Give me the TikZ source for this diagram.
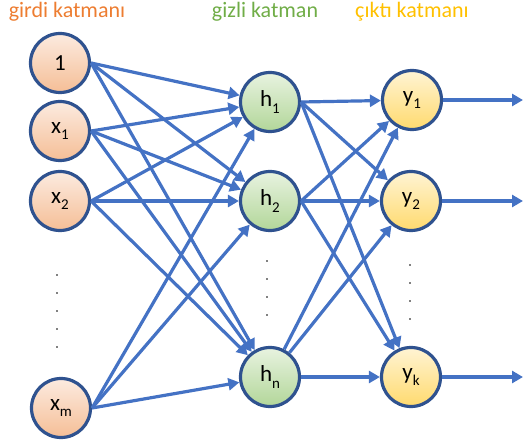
\documentclass[tikz,border=0pt]{standalone}
\usepackage{fontspec}
\setmainfont{Carlito}
\usepackage{tikz}
\usetikzlibrary{arrows.meta, positioning}

\definecolor{edgeblue}{HTML}{4472C4}
\definecolor{rimblue}{HTML}{2F528F}
\definecolor{inlo}{HTML}{FCEBE0}
\definecolor{inhi}{HTML}{F5BE96}
\definecolor{hidlo}{HTML}{E8F3E0}
\definecolor{hidhi}{HTML}{B2D699}
\definecolor{outlo}{HTML}{FFF4D4}
\definecolor{outhi}{HTML}{FFDA6E}
\definecolor{inlbl}{HTML}{ED7D31}
\definecolor{hidlbl}{HTML}{70AD47}
\definecolor{outlbl}{HTML}{FFC000}

\newcommand{\unit}[2]{#1\raisebox{-0.28em}{\fontsize{15}{15}\selectfont #2}}

\begin{document}
\begin{tikzpicture}[
  x=1pt, y=-1pt,
  unitnode/.style={circle, draw=rimblue, line width=3.2pt, minimum size=59pt, inner sep=0pt, font=\fontsize{23}{23}\selectfont},
  inunit/.style={unitnode, top color=inlo, bottom color=inhi},
  hidunit/.style={unitnode, top color=hidlo, bottom color=hidhi},
  outunit/.style={unitnode, top color=outlo, bottom color=outhi},
  layerlbl/.style={anchor=base, font=\fontsize{22}{22}\selectfont},
  conn/.style={-{Triangle[length=11pt, width=12pt]}, line width=3.2pt, edgeblue}
]
\useasboundingbox (0,0) rectangle (525,446);

%  : -- layer titles  : --
\node[layerlbl, inlbl] (tin) at (67, 18) {girdi katmanı};
\node[layerlbl, hidlbl] (thid) at (265, 18) {gizli katman};
\node[layerlbl, outlbl] (tout) at (412, 18) {çıktı katmanı};

%  : -- input layer  : --
\node[inunit] (in0) at (60, 63) {1};
\node[inunit] (in1) at (60, 131) {\unit{x}{1}};
\node[inunit] (in2) at (60, 201) {\unit{x}{2}};
\node[inunit] (inm) at (61, 408) {\unit{x}{m}};
\foreach \k in {0,...,4} {
  \fill (57, {275 + 18*\k}) circle (0.9pt);
}

%  : -- hidden layer  : --
\node[hidunit] (h1) at (270, 102) {\unit{h}{1}};
\node[hidunit] (h2) at (270, 201) {\unit{h}{2}};
\node[hidunit] (hn) at (270, 377) {\unit{h}{n}};
\foreach \k in {0,...,3} {
  \fill (267, {261 + 18*\k}) circle (0.9pt);
}

%  : -- output layer  : --
\node[outunit] (y1) at (412, 100) {\unit{y}{1}};
\node[outunit] (y2) at (411, 201) {\unit{y}{2}};
\node[outunit] (yk) at (411, 377) {\unit{y}{k}};
\foreach \k in {0,...,3} {
  \fill (410, {265 + 18*\k}) circle (0.9pt);
}

%  : -- input -> hidden  : --
\foreach \s in {in0, in1, in2, inm} {
  \foreach \t in {h1, h2, hn} {
    \draw[conn] (\s.east) -- (\t);
  }
}

%  : -- hidden -> output  : --
\foreach \s in {h1, h2} {
  \foreach \t in {y1, y2, yk} {
    \draw[conn] (\s.east) -- (\t);
  }
}
\foreach \t in {y1, y2, yk} {
  \draw[conn] (hn) -- (\t);
}

%  : -- outputs leave to the right  : --
\coordinate (o1) at (523, 100);
\coordinate (o2) at (523, 201);
\coordinate (ok) at (523, 377);
\draw[conn] (y1.east) -- (o1);
\draw[conn] (y2.east) -- (o2);
\draw[conn] (yk.east) -- (ok);

\end{tikzpicture}
\end{document}
